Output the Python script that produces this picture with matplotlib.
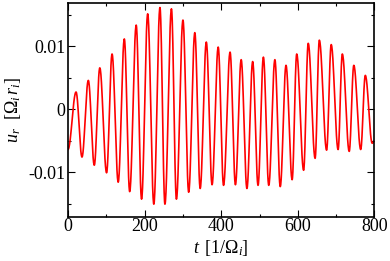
import numpy as np
import matplotlib
matplotlib.use("Agg")
import matplotlib.pyplot as plt
from matplotlib.ticker import MultipleLocator, FixedLocator

# ---- data: extrema of u_r(t) ----
t_start, u_start = 0.0, -0.0064
peak_t = [21, 53, 83, 115, 147, 178, 208, 240, 270, 300, 331, 361, 392, 423,
          452, 482, 510, 540, 569, 597, 627, 656, 687, 716, 746, 776]
peak_u = [0.00275, 0.0046, 0.0066, 0.0088, 0.0112, 0.0134, 0.0152, 0.0162,
          0.0160, 0.0142, 0.0122, 0.0107, 0.0099, 0.0091, 0.0079, 0.0076,
          0.0083, 0.0079, 0.0070, 0.0088, 0.0105, 0.0110, 0.0103, 0.0088,
          0.0070, 0.0054]
trough_t = [36.5, 68.6, 100.7, 131, 161, 192, 224, 253, 283, 315, 345, 376,
            406, 437, 467, 496, 524, 554, 585, 615, 645, 675, 705, 734, 764, 794]
trough_u = [-0.0076, -0.0089, -0.0101, -0.0116, -0.0131, -0.0143, -0.0151,
            -0.0151, -0.0143, -0.0132, -0.0126, -0.0120, -0.0121, -0.0120,
            -0.0126, -0.0121, -0.0121, -0.0123, -0.0112, -0.0097, -0.0078,
            -0.0065, -0.0064, -0.0067, -0.0064, -0.0054]
t_end, u_end = 800.0, -0.0050

x_ticks = [0, 200, 400, 600, 800]
y_ticks = [-0.01, 0, 0.01]
y_ticklabels = ["-0.01", "0", "0.01"]

# build smooth curve through extrema with half-cosine segments
ext_t = [t_start]
ext_u = [u_start]
for pt, pu, tt, tu in zip(peak_t, peak_u, trough_t, trough_u):
    ext_t += [pt, tt]
    ext_u += [pu, tu]
ext_t.append(t_end)
ext_u.append(u_end)

ts, us = [], []
for i in range(len(ext_t) - 1):
    s = np.linspace(0, 1, 25, endpoint=False)
    ts.append(ext_t[i] + (ext_t[i + 1] - ext_t[i]) * s)
    us.append(ext_u[i] + (ext_u[i + 1] - ext_u[i]) * (1 - np.cos(np.pi * s)) / 2)
ts.append([ext_t[-1]])
us.append([ext_u[-1]])
t = np.concatenate(ts)
u = np.concatenate(us)

# ---- style ----
plt.rcParams['font.family'] = ['Liberation Serif', 'DejaVu Serif']
plt.rcParams['mathtext.fontset'] = 'custom'
plt.rcParams['mathtext.rm'] = 'Liberation Serif'
plt.rcParams['mathtext.it'] = 'Liberation Serif:italic'
plt.rcParams['axes.unicode_minus'] = False

fig = plt.figure(figsize=(3.9, 2.61), dpi=100)
ax = fig.add_axes([68 / 390, 1 - 217 / 261, (374.5 - 68) / 390, (217 - 2.5) / 261])

ax.plot(t, u, color='#ff0000', lw=1.2)

ax.set_xlim(0, 800)
ax.set_ylim(-0.01714, 0.0170)

ax.xaxis.set_major_locator(FixedLocator(x_ticks))
ax.xaxis.set_minor_locator(MultipleLocator(100))
ax.yaxis.set_major_locator(FixedLocator(y_ticks))
ax.set_yticklabels(y_ticklabels)
ax.yaxis.set_minor_locator(MultipleLocator(0.005))

ax.tick_params(which='both', direction='in', top=True, right=True,
               width=0.8, labelsize=13, color='black')
ax.tick_params(which='major', length=5)
ax.tick_params(axis='x', which='major', pad=1)
ax.tick_params(axis='y', which='major', pad=2)
ax.tick_params(which='minor', length=2.5)
for sp in ax.spines.values():
    sp.set_linewidth(1.2)

ax.set_xlabel(r'$t\ \,[1/\Omega_i]$', fontsize=13, labelpad=2)
ax.set_ylabel(r'$u_r\ \ [\Omega_i\, r_i]$', fontsize=13, labelpad=4)

fig.savefig('out.png', dpi=100)
